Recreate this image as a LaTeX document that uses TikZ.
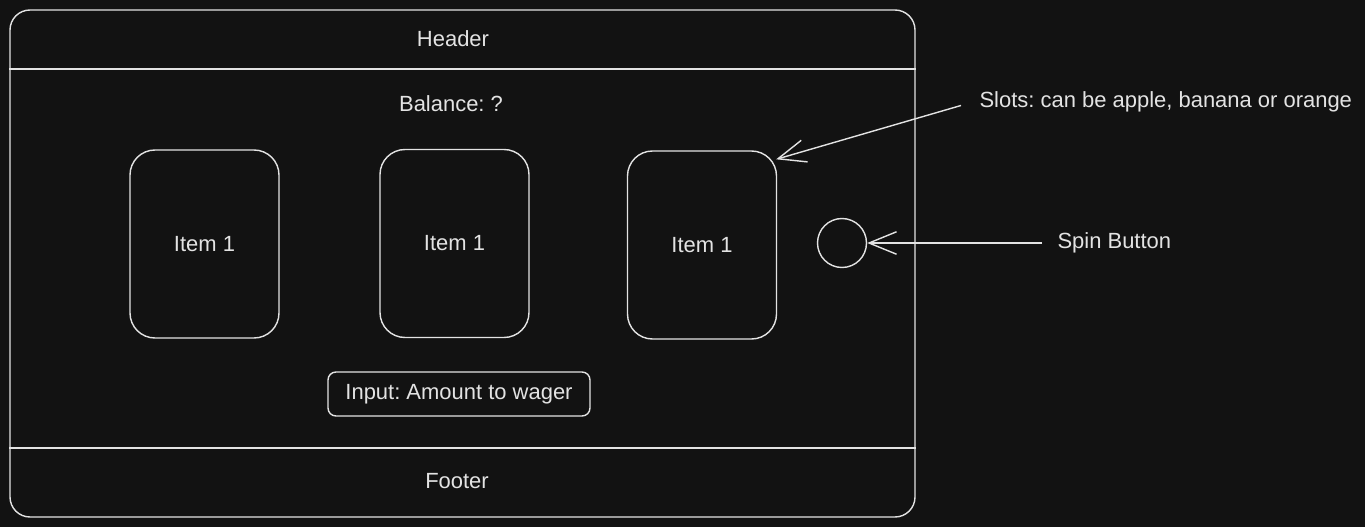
\documentclass[tikz,border=0pt]{standalone}
\usepackage{fontspec}
\setmainfont{Liberation Sans}
\usetikzlibrary{arrows.meta,calc}
\definecolor{canvas}{HTML}{121212}
\definecolor{ink}{HTML}{E3E3E3}
\frenchspacing

\begin{document}
\begin{tikzpicture}[line width=0.8pt,
  every node/.style={text=ink,font=\fontsize{12.5}{15}\selectfont},
  slotbox/.style={draw=ink,rounded corners=0.5cm,minimum width=2.98cm,minimum height=3.76cm},
  pointer/.style={draw=ink,-{Straight Barb[length=0.55cm,width=0.45cm]}}]
\fill[canvas] (0,0) rectangle (27.3,-10.54);
\useasboundingbox (0,0) rectangle (27.3,-10.54);
\node (frame)[draw=ink,rounded corners=0.4cm,minimum width=18.1cm,minimum height=10.14cm] at (9.25,-5.27) {};
\coordinate (headerline) at (0,-1.38); \coordinate (footerline) at (0,-8.96);
\draw[ink] (frame.west |- headerline)--(frame.east |- headerline);
\draw[ink] (frame.west |- footerline)--(frame.east |- footerline);
\node (header) at (9.06,-0.78) {Header};
\node (balance) at (9.02,-2.08) {Balance: ?};
\node (slot1)[slotbox] at (4.09,-4.88) {Item 1};
\node (slot2)[slotbox] at (9.09,-4.87) {Item 1};
\node (slot3)[slotbox] at (14.04,-4.9) {Item 1};
\node (wager)[draw=ink,rounded corners=0.16cm,minimum width=5.24cm,minimum height=0.88cm] at (9.18,-7.88) {Input: Amount to wager};
\node (footer) at (9.14,-9.62) {Footer};
\node (spin)[draw=ink,circle,minimum size=0.98cm] at (16.84,-4.86) {};
\node (slotsnote)[anchor=west] at (19.46,-2.04) {Slots: can be apple, banana or orange};
\node (spinnote)[anchor=west] at (21.02,-4.86) {Spin Button};
\coordinate (slottip) at ($(slot3.north east)+(-0.02,-0.18)$);
\draw[pointer,shorten <=0.25cm] (slotsnote.west) -- (slottip);
\draw[pointer,shorten <=0.18cm] (spinnote.west) -- (spin.east);
\end{tikzpicture}
\end{document}
